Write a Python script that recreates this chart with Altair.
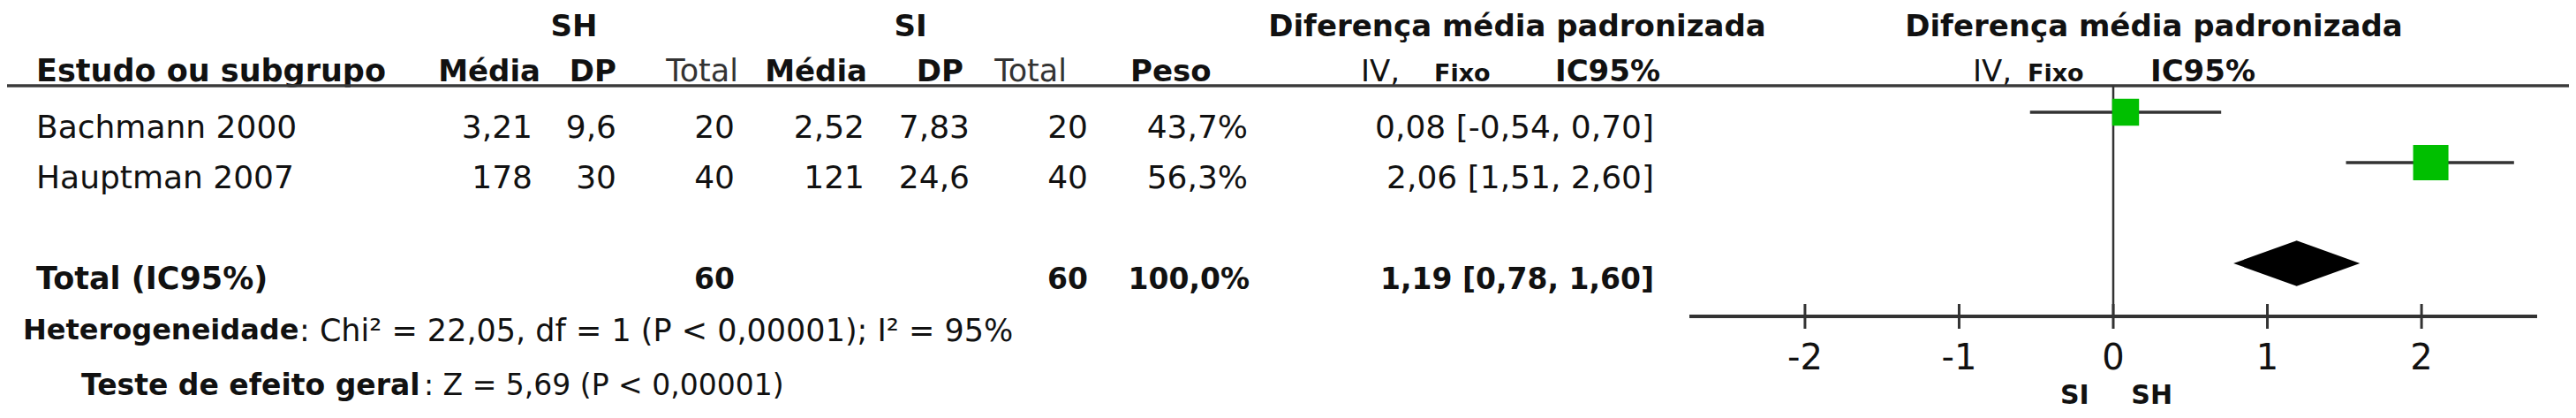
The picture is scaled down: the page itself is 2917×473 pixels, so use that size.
import altair as alt
import pandas as pd

FONT = "DejaVu Sans"

# ---------------- data ----------------
studies = ["Bachmann 2000", "Hauptman 2007"]
rows = [1, 2]
sh_mean = ["3,21", "178"]
sh_sd = ["9,6", "30"]
sh_n = ["20", "40"]
si_mean = ["2,52", "121"]
si_sd = ["7,83", "24,6"]
si_n = ["20", "40"]
weight_pct = [43.7, 56.3]
weight_lbl = ["43,7%", "56,3%"]
smd = [0.08, 2.06]
ci_lo = [-0.54, 1.51]
ci_hi = [0.70, 2.60]
ci_lbl = ["0,08 [-0,54, 0,70]", "2,06 [1,51, 2,60]"]

total_name = ["Total (IC95%)"]
total_row = [4]
total_sh_n = ["60"]
total_si_n = ["60"]
total_weight = ["100,0%"]
total_est = [1.19]
total_lo = [0.78]
total_hi = [1.60]
total_lbl = ["1,19 [0,78, 1,60]"]

ticks = [-2, -1, 0, 1, 2]
tick_labels = ["-2", "-1", "0", "1", "2"]
axis_extent = [-2.75, 2.75]
favours = ["SI", "SH"]
favours_pos = [-0.25, 0.25]

heterog_bold = "Heterogeneidade"
heterog_text = ": Chi² = 22,05, df = 1 (P < 0,00001); I² = 95%"
overall_bold = "Teste de efeito geral"
overall_text = ": Z = 5,69 (P < 0,00001)"

# ---------------- tables ----------------
studies_df = pd.DataFrame({
    "study": studies, "row": rows, "sh_mean": sh_mean, "sh_sd": sh_sd,
    "sh_n": sh_n, "si_mean": si_mean, "si_sd": si_sd, "si_n": si_n,
    "weight": weight_pct, "weight_lbl": weight_lbl, "smd": smd,
    "lo": ci_lo, "hi": ci_hi, "ci_lbl": ci_lbl,
})
total_df = pd.DataFrame({
    "name": total_name, "row": total_row, "sh_n": total_sh_n,
    "si_n": total_si_n, "weight_lbl": total_weight, "ci_lbl": total_lbl,
})
H = 0.45
diamond_df = pd.DataFrame({
    "x": [total_lo[0], total_est[0], total_hi[0]],
    "top": [total_row[0], total_row[0] - H, total_row[0]],
    "bottom": [total_row[0], total_row[0] + H, total_row[0]],
})
ticks_df = pd.DataFrame({"t": ticks, "lbl": tick_labels})
axis_df = pd.DataFrame({"a": [axis_extent[0]], "b": [axis_extent[1]], "zero": [0]})
fav_df = pd.DataFrame({"x": favours_pos, "lbl": favours})

XS = alt.Scale(domain=axis_extent, range=[1905, 2865])
YS = alt.Scale(domain=[0, 8], range=[62, 518])


def xq(f):
    return alt.X(f"{f}:Q", scale=XS, axis=None)


def yrow():
    return alt.Y("row:Q", scale=YS, axis=None)


def col(df, field, x, align="right", size=36, weight="normal", dy=29):
    return alt.Chart(df).mark_text(
        align=align, baseline="alphabetic", dy=dy, fontSize=size,
        fontWeight=weight, font=FONT, color="#111"
    ).encode(x=alt.value(x), y=yrow(), text=f"{field}:N")


def static(text, x, y, align="left", size=34, weight="bold", color="#111"):
    return alt.Chart(axis_df).mark_text(
        text=text, align=align, baseline="alphabetic", fontSize=size,
        fontWeight=weight, font=FONT, color=color
    ).encode(x=alt.value(x), y=alt.value(y))


layers = []

# header texts
layers += [
    static("SH", 642, 33, align="center"),
    static("SI", 1023, 33, align="center"),
    static("Diferença média padronizada", 1710, 33, align="center"),
    static("Diferença média padronizada", 2431, 33, align="center"),
    static("Estudo ou subgrupo", 33, 84, size=35),
    static("Média", 604, 84, align="right"),
    static("DP", 690, 84, align="right"),
    static("Total", 828, 84, align="right", size=35, weight="normal", color="#333"),
    static("Média", 974, 84, align="right"),
    static("DP", 1083, 84, align="right"),
    static("Total", 1200, 84, align="right", size=35, weight="normal", color="#333"),
    static("Peso", 1272, 84),
    static("IV,", 1533, 84, size=34, weight="normal"),
    static("Fixo", 1616, 84, size=27),
    static("IC95%", 1753, 84),
    static("IV,", 2226, 84, size=34, weight="normal"),
    static("Fixo", 2288, 84, size=27),
    static("IC95%", 2427, 84),
]

# header line
layers.append(
    alt.Chart(axis_df).mark_rule(color="#3a3a3a", strokeWidth=3.5).encode(
        x=alt.value(0), x2=alt.value(2901), y=alt.value(89))
)

# study rows
layers += [
    col(studies_df, "study", 33, align="left"),
    col(studies_df, "sh_mean", 595),
    col(studies_df, "sh_sd", 690),
    col(studies_df, "sh_n", 824),
    col(studies_df, "si_mean", 971),
    col(studies_df, "si_sd", 1090),
    col(studies_df, "si_n", 1224),
    col(studies_df, "weight_lbl", 1405),
    col(studies_df, "ci_lbl", 1865),
]

# total row
layers += [
    col(total_df, "name", 33, align="left", size=35, weight="bold"),
    col(total_df, "sh_n", 824, size=33, weight="bold"),
    col(total_df, "si_n", 1224, size=33, weight="bold"),
    col(total_df, "weight_lbl", 1407, size=33, weight="bold"),
    col(total_df, "ci_lbl", 1865, size=33, weight="bold"),
]

# footers
layers += [
    static(heterog_bold, 18, 376, size=32),
    static(heterog_text, 331, 378, size=35, weight="normal"),
    static(overall_bold, 84, 439, size=33),
    static(overall_text, 472, 439, size=33, weight="normal"),
]

# forest plot
layers += [
    alt.Chart(axis_df).mark_rule(color="#333", strokeWidth=2.5).encode(
        x=xq("zero"), y=alt.value(89), y2=alt.value(350)),
    alt.Chart(studies_df).mark_rule(color="#333", strokeWidth=3.5).encode(
        x=xq("lo"), x2="hi:Q", y=yrow()),
    alt.Chart(studies_df).mark_square(color="#00bf00", opacity=1, filled=True).encode(
        x=xq("smd"), y=yrow(),
        size=alt.Size("weight:Q", scale=alt.Scale(domain=[43.7, 56.3], range=[930, 1600], zero=False), legend=None)),
    alt.Chart(diamond_df).mark_area(color="black", orient="vertical", opacity=1).encode(
        x=xq("x"), y=alt.Y("top:Q", scale=YS, axis=None), y2="bottom:Q"),
    alt.Chart(axis_df).mark_rule(color="#333", strokeWidth=4).encode(
        x=xq("a"), x2="b:Q", y=alt.value(350)),
    alt.Chart(ticks_df).mark_rule(color="#333", strokeWidth=3).encode(
        x=xq("t"), y=alt.value(336), y2=alt.value(364)),
    alt.Chart(ticks_df).mark_text(align="center", baseline="alphabetic", fontSize=40,
                                  font=FONT, color="#111").encode(
        x=xq("t"), y=alt.value(410), text="lbl:N"),
    alt.Chart(fav_df).mark_text(align="center", baseline="alphabetic", fontSize=30,
                                font=FONT, fontWeight="bold", color="#111").encode(
        x=xq("x"), y=alt.value(449), text="lbl:N"),
]

chart = alt.layer(*layers).properties(
    width=2901, height=457, padding=0,
    autosize=alt.AutoSizeParams(type="none"),
    background="white",
).configure_view(stroke=None)

chart.save("out.html", embed_options={"renderer": "svg", "actions": False})
